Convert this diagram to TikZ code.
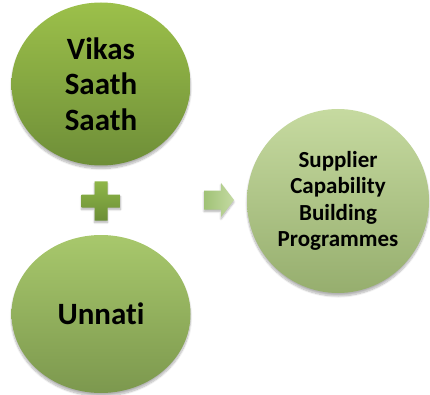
\documentclass[tikz,border=0pt]{standalone}
\usepackage{fontspec}
\setmainfont{Carlito}[Ligatures={NoCommon,NoRare,NoContextual}]
\usetikzlibrary{shapes.geometric,shadows.blur}
\definecolor{gAtop}{RGB}{156,192,74}
\definecolor{gAbot}{RGB}{110,142,56}
\definecolor{gBtop}{RGB}{168,200,108}
\definecolor{gBbot}{RGB}{124,152,78}
\definecolor{gCtop}{RGB}{198,218,160}
\definecolor{gCbot}{RGB}{150,174,110}
\definecolor{plusTop}{RGB}{142,182,72}
\definecolor{plusBot}{RGB}{108,142,54}
\definecolor{arrTop}{RGB}{196,218,162}
\definecolor{arrBot}{RGB}{160,194,118}
\tikzset{
  bubble/.style={ellipse, inner sep=0pt, align=center, text=black,
    blur shadow={shadow xshift=0pt, shadow yshift=-3pt, shadow blur steps=10, shadow opacity=30}},
  bigtext/.style={font=\fontsize{31}{35.5}\selectfont\bfseries},
  smalltext/.style={font=\fontsize{23}{26.5}\selectfont\bfseries},
  sym/.style={blur shadow={shadow xshift=0pt, shadow yshift=-2pt, shadow blur steps=6, shadow opacity=30}}
}
\begin{document}
\begin{tikzpicture}[x=1pt,y=-1pt]
\useasboundingbox (0,0) rectangle (430,395);
\node[bubble, bigtext, minimum width=179pt, minimum height=163pt, top color=gAtop, bottom color=gAbot] (vikas) at (101,84) {Vikas\\Saath\\Saath};
\node[bubble, bigtext, minimum width=179pt, minimum height=158pt, top color=gBtop, bottom color=gBbot] (unnati) at (101,314) {Unnati};
\node[bubble, smalltext, minimum width=182pt, minimum height=184pt, top color=gCtop, bottom color=gCbot] (scbp) at (338,201) {Supplier\\Capability\\Building\\Programmes};
% plus sign
\coordinate (plus) at (101,201);
\shade[sym, top color=plusTop, bottom color=plusBot]
  ([shift={(-6.5,-19.5)}]plus) -- ([shift={(6.5,-19.5)}]plus) -- ([shift={(6.5,-6.5)}]plus)
  -- ([shift={(19.5,-6.5)}]plus) -- ([shift={(19.5,6.5)}]plus) -- ([shift={(6.5,6.5)}]plus)
  -- ([shift={(6.5,19.5)}]plus) -- ([shift={(-6.5,19.5)}]plus) -- ([shift={(-6.5,6.5)}]plus)
  -- ([shift={(-19.5,6.5)}]plus) -- ([shift={(-19.5,-6.5)}]plus) -- ([shift={(-6.5,-6.5)}]plus) -- cycle;
% arrow
\coordinate (arr) at (204,200);
\shade[sym, left color=arrBot, right color=arrTop]
  ([shift={(0,-9.5)}]arr) -- ([shift={(17,-9.5)}]arr) -- ([shift={(17,-17)}]arr)
  -- ([shift={(30,0)}]arr) -- ([shift={(17,17)}]arr) -- ([shift={(17,9.5)}]arr)
  -- ([shift={(0,9.5)}]arr) -- cycle;
\end{tikzpicture}
\end{document}
